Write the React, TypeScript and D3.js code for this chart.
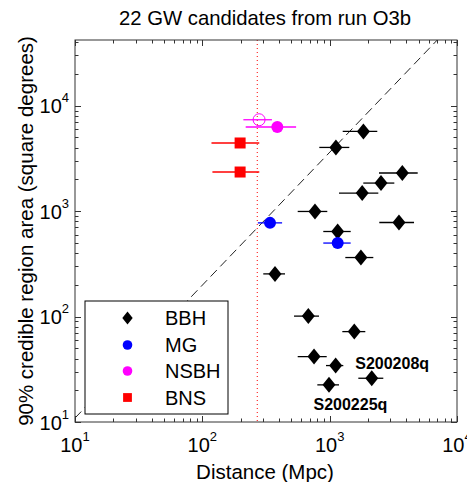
import React from "react";
import * as d3 from "d3";

// candidate classes
const categories = ["BBH", "MG", "NSBH", "BNS"];
const categoryColors = ["#000000", "#0000ff", "#ff00ff", "#ff0000"];

// one entry per plotted candidate
const eventClass = [
  "BBH", "BBH", "BBH", "BBH", "BBH", "BBH", "BBH", "BBH",
  "BBH", "BBH", "BBH", "BBH", "BBH", "BBH", "BBH", "BBH",
  "MG", "MG", "NSBH", "NSBH", "BNS", "BNS",
];
const eventDist = [
  1840, 1120, 3720, 2530, 1800, 767, 3500, 1156,
  1760, 372, 680, 1560, 754, 1115, 2140, 988,
  340, 1156, 388, 279, 198, 198,
];
const eventDistLo = [
  1266, 829, 2440, 1837, 1184, 561, 2453, 891,
  1327, 301, 525, 1257, 561, 936, 1679, 800,
  273, 891, 219, 210, 118, 120,
];
const eventDistHi = [
  2366, 1426, 4913, 3219, 2410, 958, 4597, 1463,
  2202, 446, 825, 1905, 948, 1280, 2638, 1184,
  423, 1462, 545, 352, 280, 280,
];
const eventArea = [
  5700, 4020, 2300, 1846, 1484, 993, 780, 641,
  363, 254, 101, 72, 41.7, 34.3, 26, 22.5,
  774, 498, 6280, 7360, 4430, 2350,
];
const eventHollow = [
  false, false, false, false, false, false, false, false,
  false, false, false, false, false, false, false, false,
  false, false, false, true, false, false,
];

const labelNames = ["S200208q", "S200225q"];
const labelEvents = [14, 15];

const horizonDist = 270;
const guideDist = [10, 7000];
const guideArea = [10.9, 42000];

const xDecades = [10, 100, 1000, 10000];
const yDecades = [10, 100, 1000, 10000];

const W = 467;
const H = 482;
const left = 75;
const right = 457;
const top = 40;
const bottom = 422;
const font = "Arial, 'Liberation Sans', Helvetica, sans-serif";

const x = d3.scaleLog().domain([10, 10000]).range([left, right]);
const y = d3.scaleLog().domain([10, 42000]).range([bottom, top]);

const minorTicks = (dom: number[]) => {
  const out: { v: number; major: boolean }[] = [];
  for (let d = dom[0]; d <= dom[1] * 1.0001; d *= 10) {
    for (let k = 1; k < 10; k++) {
      const v = d * k;
      if (v <= dom[1] * 1.0001) out.push({ v, major: k === 1 });
    }
  }
  return out;
};

const Marker: React.FC<{ cls: string; cx: number; cy: number; small?: boolean; hollow?: boolean }> = ({
  cls,
  cx,
  cy,
  small,
  hollow,
}) => {
  const color = categoryColors[categories.indexOf(cls)];
  const s = small ? 0.8 : 1;
  if (cls === "BBH") {
    const w = 6.5 * s;
    const h = 8 * s;
    return (
      <path
        d={`M${cx},${cy - h}L${cx + w},${cy}L${cx},${cy + h}L${cx - w},${cy}Z`}
        fill={color}
      />
    );
  }
  if (cls === "BNS") {
    const a = 5.5 * s;
    return <rect x={cx - a} y={cy - a} width={2 * a} height={2 * a} fill={color} />;
  }
  return (
    <circle
      cx={cx}
      cy={cy}
      r={6 * s}
      fill={hollow ? "none" : color}
      stroke={color}
      strokeWidth={hollow ? 1 : 0}
    />
  );
};

export default function App() {
  const idx = d3.range(eventDist.length);
  const guide = d3
    .line<number>()
    .x((i) => x(guideDist[i]))
    .y((i) => y(guideArea[i]));

  const xt = minorTicks([10, 10000]);
  const yt = minorTicks([10, 10000]).concat([{ v: 20000, major: false }, { v: 30000, major: false }, { v: 40000, major: false }]);

  const legendY = [318, 345, 371, 397.5];

  return (
    <div style={{ position: "absolute", left: 0, top: 0 }}>
      <svg width={W} height={H} style={{ display: "block", background: "#fff" }} fontFamily={font}>
        <rect x={0} y={0} width={W} height={H} fill="#fff" />
        <text x={265} y={25} textAnchor="middle" fontSize={20.3} fill="#000">
          22 GW candidates from run O3b
        </text>

        {/* horizon line */}
        <line
          x1={x(horizonDist)}
          x2={x(horizonDist)}
          y1={top}
          y2={bottom}
          stroke="#ff0000"
          strokeWidth={1}
          strokeDasharray="1,3"
        />
        {/* area ~ distance guide */}
        <path d={guide([0, 1]) || ""} fill="none" stroke="#222" strokeWidth={1} strokeDasharray="9,5" />

        {idx.map((i) => {
          const color = categoryColors[categories.indexOf(eventClass[i])];
          return (
            <line
              key={"e" + i}
              x1={x(eventDistLo[i])}
              x2={x(eventDistHi[i])}
              y1={y(eventArea[i])}
              y2={y(eventArea[i])}
              stroke={color}
              strokeWidth={1.3}
            />
          );
        })}
        {idx.map((i) => (
          <Marker
            key={"m" + i}
            cls={eventClass[i]}
            cx={x(eventDist[i])}
            cy={y(eventArea[i])}
            hollow={eventHollow[i]}
          />
        ))}

        {labelNames.map((name, j) => {
          const i = labelEvents[j];
          const dx = j === 0 ? -16.5 : -15.5;
          const dy = j === 0 ? -9 : 25;
          return (
            <text
              key={name}
              x={x(eventDist[i]) + dx}
              y={y(eventArea[i]) + dy}
              fontSize={16}
              fontWeight="bold"
              fill="#000"
            >
              {name}
            </text>
          );
        })}

        {/* legend */}
        <rect x={85} y={301} width={143} height={113} fill="#fff" stroke="#000" strokeWidth={1} />
        {categories.map((c, i) => (
          <g key={c}>
            <Marker cls={c} cx={127.5} cy={legendY[i]} small />
            <text x={165} y={legendY[i] + 7} fontSize={20} fill="#000">
              {c}
            </text>
          </g>
        ))}

        {/* frame and ticks */}
        <rect x={left} y={top} width={right - left} height={bottom - top} fill="none" stroke="#333" strokeWidth={1} />
        {xt.map((t, i) => {
          const len = t.major ? 6 : 3.5;
          const px = Math.round(x(t.v)) + 0.5;
          return (
            <g key={"xt" + i} stroke="#333" strokeWidth={1}>
              <line x1={px} x2={px} y1={bottom} y2={bottom - len} />
              <line x1={px} x2={px} y1={top} y2={top + len} />
            </g>
          );
        })}
        {yt.map((t, i) => {
          const len = t.major ? 6 : 3.5;
          const py = Math.round(y(t.v)) + 0.5;
          return (
            <g key={"yt" + i} stroke="#333" strokeWidth={1}>
              <line x1={left} x2={left + len} y1={py} y2={py} />
              <line x1={right} x2={right - len} y1={py} y2={py} />
            </g>
          );
        })}
        {xDecades.map((v) => (
          <text key={"xl" + v} x={x(v)} y={452} textAnchor="middle" fontSize={20} fill="#000">
            10
            <tspan fontSize={13} dy={-11}>
              {Math.round(Math.log10(v))}
            </tspan>
          </text>
        ))}
        {yDecades.map((v) => (
          <text key={"yl" + v} x={69} y={y(v) + 7.5} textAnchor="end" fontSize={20} fill="#000">
            10
            <tspan fontSize={13} dy={-11}>
              {Math.round(Math.log10(v))}
            </tspan>
          </text>
        ))}

        <text x={(left + right) / 2 - 1} y={479} textAnchor="middle" fontSize={20.5} fill="#000">
          Distance (Mpc)
        </text>
        <text
          transform={`translate(33,${(top + bottom) / 2}) rotate(-90)`}
          textAnchor="middle"
          fontSize={20.5}
          fill="#000"
        >
          90% credible region area (square degrees)
        </text>
      </svg>
    </div>
  );
}
